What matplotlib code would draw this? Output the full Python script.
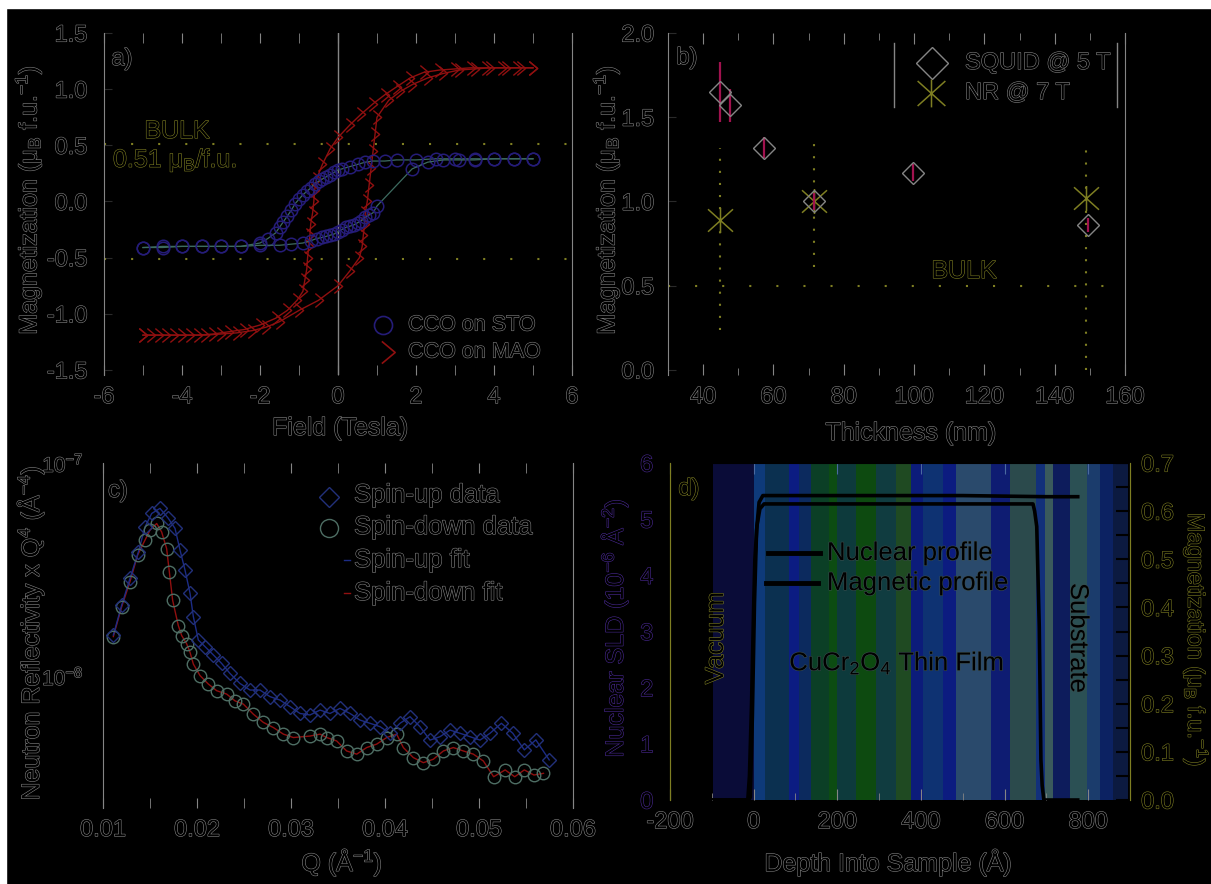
import numpy as np
import matplotlib
matplotlib.use("Agg")
import matplotlib.pyplot as plt
import matplotlib.patheffects as pe
import matplotlib.text as mtext
from matplotlib.path import Path
from matplotlib.lines import Line2D
from matplotlib.patches import Rectangle
from matplotlib.colors import to_hex
from matplotlib.ticker import MultipleLocator, FixedLocator, NullLocator, FormatStrFormatter

# ---------------- data ----------------
# (a) hysteresis loops
sto_desc_field = [5.0, 4.5, 4.0, 3.5, 3.0, 2.5, 2.0, 1.5, 1.2, 0.9, 0.7, 0.5, 0.3, 0.1, 0.0, -0.1, -0.2,
                  -0.3, -0.4, -0.5, -0.6, -0.7, -0.8, -0.9, -1.0, -1.1, -1.2, -1.3, -1.4, -1.5, -1.6, -1.8,
                  -2.0, -2.5, -3.0, -3.5, -4.0, -4.5, -5.0]
sto_desc_m = [0.38, 0.38, 0.38, 0.38, 0.38, 0.38, 0.37, 0.37, 0.36, 0.36, 0.35, 0.33, 0.31, 0.29, 0.28, 0.26,
              0.24, 0.22, 0.20, 0.18, 0.16, 0.12, 0.09, 0.06, 0.02, -0.02, -0.08, -0.13, -0.18, -0.23, -0.28,
              -0.33, -0.37, -0.40, -0.40, -0.40, -0.40, -0.40, -0.41]
sto_asc_field = [-5.0, -4.5, -4.0, -3.5, -3.0, -2.5, -2.0, -1.5, -1.2, -0.9, -0.7, -0.55, -0.4, -0.3, -0.2,
                 -0.1, 0.0, 0.1, 0.2, 0.3, 0.4, 0.5, 0.6, 0.7, 0.8, 0.9, 1.0, 1.9, 2.3, 2.7, 3.1, 3.5, 4.0,
                 4.5, 5.0]
sto_asc_m = [-0.41, -0.41, -0.40, -0.40, -0.40, -0.40, -0.39, -0.39, -0.38, -0.37, -0.35, -0.33, -0.32,
             -0.31, -0.30, -0.29, -0.27, -0.25, -0.23, -0.22, -0.21, -0.19, -0.17, -0.14, -0.12, -0.10,
             -0.04, 0.29, 0.35, 0.37, 0.37, 0.37, 0.38, 0.38, 0.38]

mao_desc_field = [5.0, 4.6, 4.2, 3.8, 3.4, 3.0, 2.6, 2.2, 1.85, 1.5, 1.2, 0.9, 0.6, 0.3, 0.0, -0.2, -0.4,
                  -0.55, -0.6, -0.62, -0.65, -0.7, -0.72, -0.75, -0.78, -0.8, -0.85, -0.9, -1.05, -1.3,
                  -1.6, -2.0, -2.4, -2.8, -3.2, -3.6, -4.0, -4.4, -4.8, -5.0]
mao_desc_m = [1.19, 1.19, 1.19, 1.19, 1.19, 1.18, 1.17, 1.15, 1.10, 1.02, 0.95, 0.87, 0.78, 0.68, 0.57,
              0.47, 0.33, 0.20, 0.10, 0.00, -0.10, -0.20, -0.30, -0.40, -0.50, -0.60, -0.70, -0.80, -0.88,
              -0.97, -1.04, -1.10, -1.14, -1.16, -1.18, -1.19, -1.19, -1.19, -1.19, -1.19]
mao_asc_field = [-5.0, -4.6, -4.2, -3.8, -3.4, -3.0, -2.6, -2.2, -1.85, -1.5, -1.0, -0.5, 0.0, 0.3, 0.55,
                 0.62, 0.65, 0.68, 0.70, 0.75, 0.80, 0.85, 0.90, 0.95, 1.0, 1.3, 1.6, 1.9, 2.3, 2.7, 3.1,
                 3.5, 3.9, 4.3, 4.7, 5.0]
mao_asc_m = [-1.19, -1.19, -1.19, -1.19, -1.19, -1.18, -1.17, -1.15, -1.12, -1.07, -0.97, -0.88, -0.75,
             -0.62, -0.50, -0.40, -0.30, -0.20, -0.10, 0.00, 0.15, 0.30, 0.45, 0.60, 0.75, 0.90, 0.98,
             1.04, 1.10, 1.14, 1.17, 1.18, 1.19, 1.19, 1.19, 1.19]
bulk_a = 0.51

# (b) moment vs thickness
squid_thickness = [44.9, 47.7, 57.4, 71.4, 99.7, 149.4]
squid_moment = [1.65, 1.57, 1.32, 1.00, 1.17, 0.86]
squid_err = [0.18, 0.10, 0.06, 0.05, 0.05, 0.04]
nr_thickness = [44.9, 71.4, 149.0]
nr_moment = [0.89, 1.00, 1.02]
nr_err_low = [0.65, 0.39, 1.02]
nr_err_high = [0.43, 0.36, 0.34]
bulk_b = 0.5

# (c) neutron reflectivity x Q^4 (log10 values)
down_q = [0.01110, 0.01199, 0.01287, 0.01369, 0.01447, 0.01500, 0.01571, 0.01624, 0.01677, 0.01706,
          0.01741, 0.01801, 0.01837, 0.01890, 0.01926, 0.01961, 0.02032, 0.02121, 0.02209, 0.02316,
          0.02405, 0.02493, 0.02599, 0.02706, 0.02812, 0.02919, 0.03025, 0.03202, 0.03309, 0.03380,
          0.03486, 0.03592, 0.03699, 0.03805, 0.03911, 0.04018, 0.04124, 0.04195, 0.04301, 0.04408,
          0.04514, 0.04621, 0.04727, 0.04833, 0.04940, 0.05046, 0.05156, 0.05278, 0.05380, 0.05482,
          0.05584, 0.05686]
down_log10R = [-7.815, -7.675, -7.557, -7.432, -7.362, -7.315, -7.284, -7.324, -7.402, -7.512, -7.645,
               -7.763, -7.810, -7.849, -7.889, -7.944, -7.998, -8.038, -8.069, -8.085, -8.117, -8.132,
               -8.179, -8.218, -8.242, -8.273, -8.289, -8.282, -8.273, -8.289, -8.305, -8.352, -8.367,
               -8.336, -8.320, -8.289, -8.273, -8.336, -8.383, -8.407, -8.391, -8.352, -8.336, -8.352,
               -8.367, -8.399, -8.473, -8.441, -8.473, -8.441, -8.465, -8.457]
up_q = [0.01110, 0.01199, 0.01287, 0.01376, 0.01447, 0.01518, 0.01606, 0.01695, 0.01766, 0.01819,
        0.01872, 0.01926, 0.01961, 0.02014, 0.02085, 0.02174, 0.02262, 0.02351, 0.02457, 0.02564,
        0.02670, 0.02777, 0.02883, 0.02990, 0.03096, 0.03202, 0.03309, 0.03415, 0.03521, 0.03628,
        0.03734, 0.03840, 0.03947, 0.04053, 0.04160, 0.04266, 0.04372, 0.04479, 0.04585, 0.04692,
        0.04798, 0.04904, 0.05011, 0.05117, 0.05238, 0.05360, 0.05482, 0.05605, 0.05747]
up_log10R = [-7.808, -7.667, -7.542, -7.418, -7.300, -7.237, -7.213, -7.260, -7.307, -7.408, -7.502,
             -7.612, -7.721, -7.831, -7.862, -7.901, -7.941, -7.988, -8.035, -8.066, -8.066, -8.097,
             -8.113, -8.144, -8.176, -8.183, -8.160, -8.176, -8.152, -8.176, -8.207, -8.222, -8.238,
             -8.269, -8.222, -8.191, -8.238, -8.301, -8.285, -8.254, -8.269, -8.285, -8.301, -8.269,
             -8.222, -8.269, -8.347, -8.300, -8.394]

# (d) depth profiles
nuc_depth = [-100, -12, -8, -3, 2, 7, 13, 22, 100, 300, 500, 700, 775]
nuc_sld = [0.0, 0.0, 0.05, 1.5, 3.5, 4.8, 5.3, 5.42, 5.42, 5.42, 5.42, 5.40, 5.40]
mag_depth = [-100, -14, -10, -5, 0, 3, 8, 15, 25, 300, 600, 668, 672, 677, 683, 687, 690, 694, 775]
mag_moment = [0.0, 0.0, 0.05, 0.20, 0.40, 0.50, 0.57, 0.605, 0.615, 0.615, 0.615, 0.615, 0.60, 0.568,
              0.36, 0.083, 0.03, 0.0, 0.0]
band_edges = [-96, 0, 28, 84, 108, 136, 180, 200, 244, 292, 340, 376, 404, 452, 484, 568, 612, 676,
              696, 716, 756, 796, 828, 860, 895]
band_colors = ['#0a0c38', '#0e3a7a', '#0b3050', '#0c1c82', '#0c2a5e', '#0b3f26', '#0c4c12', '#0d3a3c',
               '#0d4a10', '#103c40', '#1f4a22', '#0c1c7a', '#0e3272', '#0c1c80', '#2a4a6c', '#0e1c72',
               '#2b4a4c', '#12307a', '#3a5a5c', '#0d1c5c', '#2b5054', '#1b3c6c', '#0c2262', '#0c1a40']

# ---------------- style ----------------
plt.rcParams['font.family'] = ['Liberation Sans', 'DejaVu Sans']
plt.rcParams['mathtext.fontset'] = 'custom'
plt.rcParams['mathtext.rm'] = 'Liberation Sans'
plt.rcParams['mathtext.it'] = 'Liberation Sans:italic'
plt.rcParams['mathtext.bf'] = 'Liberation Sans:bold'
plt.rcParams['mathtext.default'] = 'regular'
plt.rcParams['axes.unicode_minus'] = False

GRAY = '#858585'
OLIVE = '#7e7e22'
PURPLE = '#4b2a96'
NAVY = '#251c78'
RED = '#901010'
MAG = '#a0124e'

W, H = 1211, 884
fig = plt.figure(figsize=(W / 100, H / 100), dpi=100)
fig.patch.set_facecolor('black')
fig.patches.append(Rectangle((0, 1 - 8 / H), 1, 8 / H, transform=fig.transFigure, color='white', zorder=-10))
fig.patches.append(Rectangle((0, 0), 6 / W, 1, transform=fig.transFigure, color='white', zorder=-10))


def rect(l, r, t, b):
    return [l / W, 1 - b / H, (r - l) / W, (b - t) / H]


def fx(x):
    return x / W


def fy(y):
    return 1 - y / H


def ftext(x, y, s, **kw):
    kw.setdefault('ha', 'center')
    kw.setdefault('va', 'center')
    return fig.text(fx(x), fy(y), s, **kw)


def fmark(x, y, **kw):
    fig.add_artist(Line2D([fx(x)], [fy(y)], transform=fig.transFigure, linestyle='none', **kw))


def fline(x0, x1, y0, y1, **kw):
    fig.add_artist(Line2D([fx(x0), fx(x1)], [fy(y0), fy(y1)], transform=fig.transFigure, **kw))


def base_axes(r, lcol=GRAY, rcol=GRAY):
    ax = fig.add_axes(r)
    ax.set_facecolor('black')
    ax.spines['top'].set_visible(False)
    ax.spines['bottom'].set_visible(False)
    ax.spines['left'].set_color(lcol)
    ax.spines['right'].set_color(rcol)
    return ax


chevron = Path([(-0.6, 1), (0.6, 0), (-0.6, -1)], [Path.MOVETO, Path.LINETO, Path.LINETO])
asterisk = Path([(0, -1), (0, 1), (-1, -0.9), (1, 0.9), (-1, 0.9), (1, -0.9)],
                [Path.MOVETO, Path.LINETO, Path.MOVETO, Path.LINETO, Path.MOVETO, Path.LINETO])
BULK_DOTS = (0, (1, 12))
ERR_DOTS = (0, (1, 4.8))

# ---------------- (a) ----------------
axa = base_axes(rect(104, 572, 33, 375))
axa.set_xlim(-6, 6)
axa.set_ylim(-1.545, 1.5)
axa.xaxis.set_major_locator(MultipleLocator(2))
axa.xaxis.set_minor_locator(MultipleLocator(1))
axa.yaxis.set_major_locator(FixedLocator([-1.5, -1.0, -0.5, 0.0, 0.5, 1.0, 1.5]))
axa.yaxis.set_major_formatter(FormatStrFormatter('%.1f'))
axa.tick_params(axis='x', which='both', direction='in', top=True, bottom=True, color=GRAY,
                labelcolor=GRAY, labelsize=17, pad=8, length=7)
axa.tick_params(axis='y', which='both', direction='in', left=True, right=False, color='#2a2a2a',
                labelcolor=GRAY, labelsize=17, pad=12, length=6)
axa.axvline(0, color=GRAY, lw=1.0)
axa.axhline(bulk_a, color=OLIVE, lw=1.5, linestyle=BULK_DOTS)
axa.axhline(-bulk_a, color=OLIVE, lw=1.5, linestyle=BULK_DOTS)
for fld, m in ((mao_desc_field, mao_desc_m), (mao_asc_field, mao_asc_m)):
    axa.plot(fld, m, color=RED, lw=1.0, marker=chevron, ms=10, mfc='none', mec=RED, mew=1.0)
for fld, m in ((sto_desc_field, sto_desc_m), (sto_asc_field, sto_asc_m)):
    axa.plot(fld, m, color='#3d6b60', lw=0.9, marker='o', ms=9, mfc='none', mec=NAVY, mew=1.1)

ftext(122, 59, 'a)', fontsize=17, color=GRAY)
ftext(177, 131, 'BULK', fontsize=18, color=OLIVE)
ftext(113, 160, '0.51 μ$_B$/f.u.', fontsize=18, color=OLIVE, ha='left')
fmark(383, 325, marker='o', ms=13, mfc='none', mec=NAVY, mew=1.2)
ftext(408, 325, 'CCO on STO', fontsize=15.5, color=GRAY, ha='left')
fmark(388, 352, marker=chevron, ms=16, mfc='none', mec=RED, mew=1.2)
ftext(408, 352, 'CCO on MAO', fontsize=15.5, color=GRAY, ha='left')
ftext(28, 200, 'Magnetization (μ$_B$ f.u.$^{-1}$)', fontsize=18, color=GRAY, rotation=90)
ftext(340, 428, 'Field (Tesla)', fontsize=18, color=GRAY)

# ---------------- (b) ----------------
axb = base_axes(rect(668, 1125, 33, 375))
axb.set_xlim(30, 160)
axb.set_ylim(-0.03, 2.0)
axb.xaxis.set_major_locator(FixedLocator([40, 60, 80, 100, 120, 140, 160]))
axb.xaxis.set_minor_locator(MultipleLocator(10))
axb.yaxis.set_major_locator(FixedLocator([0.0, 0.5, 1.0, 1.5, 2.0]))
axb.yaxis.set_major_formatter(FormatStrFormatter('%.1f'))
axb.tick_params(axis='x', which='major', direction='in', top=True, bottom=True, color=GRAY,
                labelcolor=GRAY, labelsize=17, pad=8, length=8)
axb.tick_params(axis='x', which='minor', direction='in', top=True, bottom=True, color=GRAY, length=5)
axb.tick_params(axis='y', which='both', direction='in', left=True, right=False, color='#2a2a2a',
                labelcolor=GRAY, labelsize=17, pad=10, length=6)
axb.axhline(bulk_b, color=OLIVE, lw=1.5, linestyle=BULK_DOTS)
eb = axb.errorbar(nr_thickness, nr_moment, yerr=[nr_err_low, nr_err_high], fmt='none',
                  ecolor=OLIVE, elinewidth=1.5)
eb[2][0].set_linestyle(ERR_DOTS)
axb.plot(nr_thickness, nr_moment, linestyle='none', marker=asterisk, ms=18, mec=OLIVE, mew=1.1)
axb.errorbar(squid_thickness, squid_moment, yerr=squid_err, fmt='none', ecolor=MAG, elinewidth=1.6)
axb.plot(squid_thickness, squid_moment, linestyle='none', marker='D', ms=11, mfc='none', mec=GRAY,
         mew=1.0)
ftext(687, 58, 'b)', fontsize=17, color=GRAY)
ftext(964, 271, 'BULK', fontsize=18, color=OLIVE)
fline(894, 894, 43, 107, color=GRAY, lw=1.0)
fline(1117, 1117, 43, 107, color=GRAY, lw=1.0)
fmark(932, 63, marker='D', ms=16, mfc='none', mec=GRAY, mew=1.0)
ftext(965, 63, 'SQUID @ 5 T', fontsize=17, color=GRAY, ha='left')
fmark(931, 93, marker=asterisk, ms=20, mec=OLIVE, mew=1.1)
ftext(965, 93, 'NR @ 7 T', fontsize=17, color=GRAY, ha='left')
ftext(606, 200, 'Magnetization (μ$_B$ f.u.$^{-1}$)', fontsize=18, color=GRAY, rotation=90)
ftext(911, 433, 'Thickness (nm)', fontsize=18, color=GRAY)

# ---------------- (c) ----------------
axc = base_axes(rect(103, 573, 463, 808))
axc.set_yscale('log')
axc.set_xlim(0.01, 0.06)
axc.set_ylim(2.4e-9, 1e-7)
axc.xaxis.set_major_locator(MultipleLocator(0.01))
axc.xaxis.set_minor_locator(MultipleLocator(0.005))
axc.xaxis.set_major_formatter(FormatStrFormatter('%.2f'))
axc.yaxis.set_major_locator(FixedLocator([1e-8, 1e-7]))
axc.yaxis.set_minor_locator(NullLocator())
axc.tick_params(axis='x', which='both', direction='in', top=True, bottom=True, color=GRAY,
                labelcolor=GRAY, labelsize=17, pad=8, length=7)
axc.tick_params(axis='y', which='both', direction='in', left=True, right=False, color='black',
                labelcolor=GRAY, labelsize=15, pad=14, length=6)
down_R = 10 ** np.array(down_log10R)
up_R = 10 ** np.array(up_log10R)
axc.plot(down_q, down_R, color=RED, lw=1.0)
axc.plot(up_q, up_R, color='#1c2c86', lw=1.0)
axc.plot(down_q, down_R, linestyle='none', marker='o', ms=9, mfc='none', mec='#4e6e64', mew=1.0)
axc.plot(up_q, up_R, linestyle='none', marker='D', ms=7.5, mfc='none', mec='#22307a', mew=1.0)
ftext(118, 491, 'c)', fontsize=17, color=GRAY)
fmark(329, 497, marker='D', ms=10, mfc='none', mec='#22307a', mew=1.0)
ftext(354, 495, 'Spin-up data', fontsize=18.5, color=GRAY, ha='left')
fmark(329, 528, marker='o', ms=13, mfc='none', mec='#4e6e64', mew=1.0)
ftext(354, 527, 'Spin-down data', fontsize=18.5, color=GRAY, ha='left')
fline(344, 350, 560, 560, color='#1c2c86', lw=1.0)
ftext(354, 560, 'Spin-up fit', fontsize=18.5, color=GRAY, ha='left')
fline(344, 350, 593, 593, color=RED, lw=1.0)
ftext(354, 593, 'Spin-down fit', fontsize=18.5, color=GRAY, ha='left')
ftext(30, 633, 'Neutron Reflectivity x Q$^4$ (Å$^{-4}$)', fontsize=18, color=GRAY, rotation=90)
ftext(342, 862, 'Q (Å$^{-1}$)', fontsize=18, color=GRAY)

# ---------------- (d) ----------------
axd = base_axes(rect(670, 1130, 463, 800), lcol=OLIVE, rcol=OLIVE)
axd.set_xlim(-200, 900)
axd.set_ylim(0, 6)
for i, c in enumerate(band_colors):
    axd.axvspan(band_edges[i], band_edges[i + 1], color=c, lw=0, zorder=0)
axd.xaxis.set_major_locator(MultipleLocator(200))
axd.xaxis.set_minor_locator(MultipleLocator(100))
axd.yaxis.set_major_locator(MultipleLocator(1))
axd.tick_params(axis='x', which='major', direction='in', top=False, bottom=True, color=GRAY,
                labelcolor=GRAY, labelsize=17, pad=8, length=8)
axd.tick_params(axis='x', which='minor', direction='in', top=False, bottom=True, color=GRAY, length=5)
axd.tick_params(axis='y', which='both', direction='in', left=True, right=False, color='black',
                labelcolor=PURPLE, labelsize=17, pad=12, length=0)
axd.secondary_xaxis('top').tick_params(which='both', direction='in', color='#4a6aa0', length=8,
                                       labeltop=False)
axd2 = axd.twinx()
axd2.set_ylim(0, 0.7)
for s in ('top', 'bottom'):
    axd2.spines[s].set_visible(False)
axd2.spines['right'].set_color(OLIVE)
axd2.spines['left'].set_color(OLIVE)
axd2.yaxis.set_major_locator(MultipleLocator(0.1))
axd2.yaxis.set_minor_locator(MultipleLocator(0.05))
axd2.yaxis.set_major_formatter(FormatStrFormatter('%.1f'))
axd2.tick_params(axis='y', which='both', direction='in', right=True, color='black', width=1.5,
                 length=10, labelcolor=OLIVE, labelsize=17, pad=8)
axd.plot(nuc_depth, nuc_sld, color='black', lw=2.6, zorder=3)
axd2.plot(mag_depth, mag_moment, color='black', lw=2.6, zorder=3)
fline(768, 820, 553, 553, color='black', lw=3.5)
ftext(827, 553, 'Nuclear profile', fontsize=18.5, color='black', ha='left')
fline(766, 818, 583, 583, color='black', lw=3.5)
ftext(827, 583, 'Magnetic profile', fontsize=18.5, color='black', ha='left')
ftext(897, 663, 'CuCr$_2$O$_4$ Thin Film', fontsize=18.5, color='black')
ftext(1078, 638, 'Substrate', fontsize=18.5, color='black', rotation=270)
ftext(716, 638, 'Vacuum', fontsize=18.5, color=OLIVE, rotation=90)
ftext(689, 489, 'd)', fontsize=17, color=OLIVE)
ftext(614, 628, 'Nuclear SLD (10$^{-6}$ Å$^{-2}$)', fontsize=18, color=PURPLE, rotation=90)
ftext(1196, 640, 'Magnetization (μ$_B$ f.u.$^{-1}$)', fontsize=17, color=OLIVE, rotation=270)
ftext(888, 862, 'Depth Into Sample (Å)', fontsize=18, color=GRAY)

# ---------------- outlined-text look ----------------
fig.canvas.draw()
for t in fig.findobj(mtext.Text):
    if not t.get_text():
        continue
    c = to_hex(t.get_color())
    stroke = '#3a4c4c' if c == '#000000' else c
    t.set_path_effects([pe.Stroke(linewidth=0.8, foreground=stroke), pe.Normal()])
    t.set_color('black')

fig.savefig('out.png', dpi=100, facecolor='black')
